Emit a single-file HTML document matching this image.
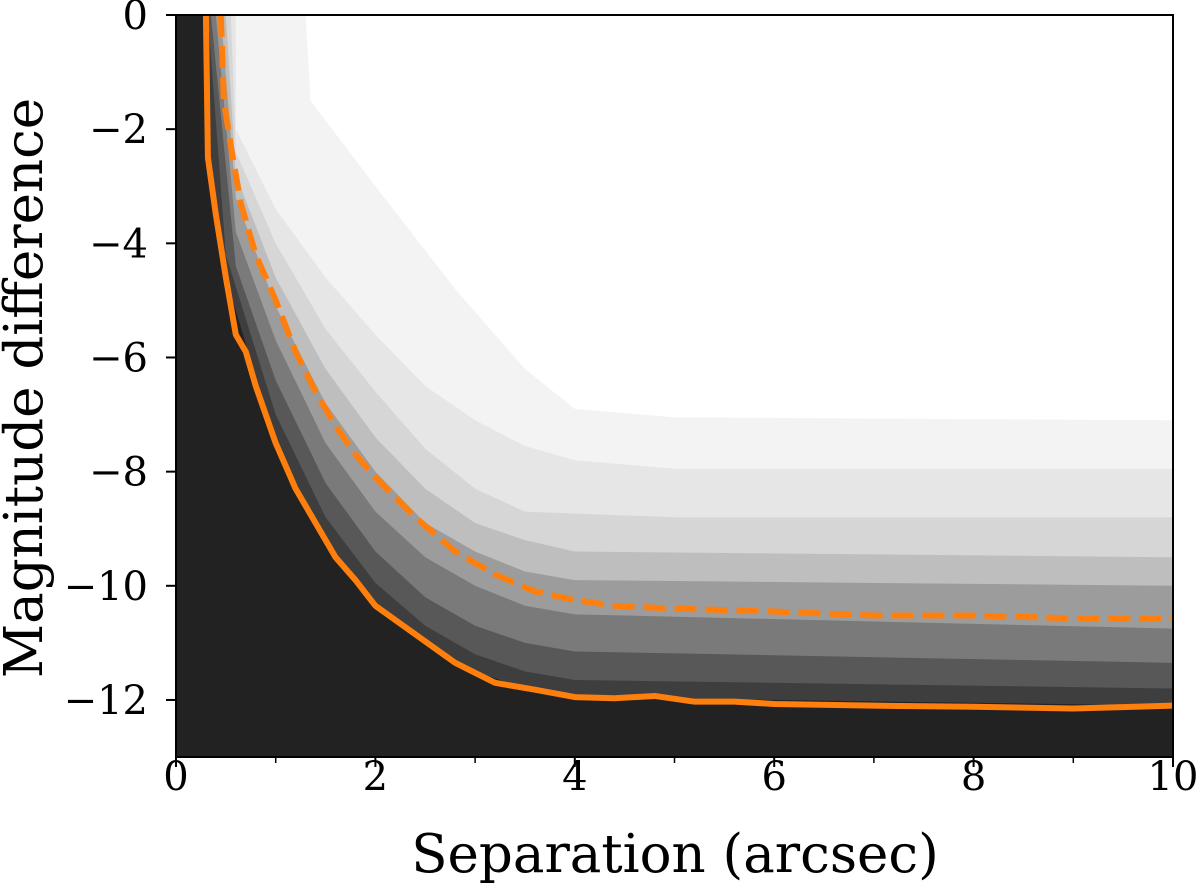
<!DOCTYPE html>
<html><head><meta charset="utf-8"><style>
body{margin:0;background:#fff;}
svg text{font-family:"DejaVu Serif","Liberation Serif",serif;fill:#000;}
</style></head><body>
<svg id="chart" width="1200" height="884" xmlns="http://www.w3.org/2000/svg">
<defs><clipPath id="clip"><rect x="176" y="15" width="997" height="742"/></clipPath></defs>
<g id="layers" clip-path="url(#clip)"></g>
<g id="lines" clip-path="url(#clip)"></g>
<rect x="176" y="15" width="997" height="742" fill="none" stroke="#000" stroke-width="2"/>
<g id="axes"></g>
<text x="675" y="872" font-size="53" text-anchor="middle">Separation (arcsec)</text>
<text transform="translate(42,388) rotate(-90)" font-size="53" text-anchor="middle">Magnitude difference</text>
</svg>
<script>
const xTicks=[0,2,4,6,8,10];
const xMinor=[1,3,5,7,9];
const yTicks=[0,-2,-4,-6,-8,-10,-12];
const layerColors=["#f3f3f3","#e6e6e6","#d6d6d6","#bebebe","#9c9c9c","#7a7a7a","#585858","#3e3e3e","#222222"];
const layerA=[[1.3,0],[1.35,-1.5],[2,-3],[2.8,-4.8],[3,-5.2],[3.5,-6.2],[4,-6.9],[5,-7.05],[10,-7.1]];
const layerB=[[0.6,0],[0.6,-2],[1,-3.4],[1.5,-4.6],[2,-5.6],[2.5,-6.5],[3,-7.1],[3.5,-7.55],[4,-7.8],[5,-7.95],[10,-7.95]];
const layerC=[[0.55,0],[0.6,-2.4],[1,-4.0],[1.5,-5.5],[2,-6.6],[2.5,-7.6],[3,-8.3],[3.5,-8.7],[5,-8.8],[10,-8.8]];
const layerD=[[0.5,0],[0.6,-2.8],[1,-4.6],[1.5,-6.2],[2,-7.4],[2.5,-8.3],[3,-8.9],[3.5,-9.2],[4,-9.4],[10,-9.5]];
const layerE=[[0.45,0],[0.6,-3.2],[1,-5.1],[1.5,-6.8],[2,-8.0],[2.5,-8.9],[3,-9.4],[3.5,-9.75],[4,-9.9],[10,-10.0]];
const layerF=[[0.4,0],[0.6,-3.8],[1,-5.7],[1.5,-7.5],[2,-8.7],[2.5,-9.5],[3,-10.0],[3.5,-10.35],[4,-10.5],[10,-10.75]];
const layerG=[[0.35,0],[0.6,-4.4],[1,-6.4],[1.5,-8.2],[2,-9.4],[2.5,-10.2],[3,-10.7],[3.5,-11.0],[4,-11.15],[10,-11.35]];
const layerH=[[0.32,0],[0.5,-4.2],[1,-7.0],[1.5,-8.8],[2,-9.95],[2.5,-10.7],[3,-11.2],[3.5,-11.5],[4,-11.65],[10,-11.8]];
const layerI=[[0.3,0],[0.3,-2.5],[0.5,-4.6],[1,-7.5],[1.5,-9.2],[2,-10.35],[2.5,-11.0],[3,-11.5],[3.5,-11.8],[4,-11.95],[10,-12.1]];
const solidLine=[[0.3,0],[0.32,-2.5],[0.4,-3.5],[0.5,-4.6],[0.6,-5.6],[0.7,-5.9],[0.8,-6.5],[1.0,-7.5],[1.2,-8.3],[1.4,-8.9],[1.6,-9.5],[1.8,-9.9],[2.0,-10.35],[2.4,-10.85],[2.8,-11.35],[3.2,-11.7],[3.6,-11.82],[4.0,-11.95],[4.4,-11.97],[4.8,-11.93],[5.2,-12.03],[5.6,-12.03],[6,-12.07],[7,-12.1],[8,-12.12],[9,-12.15],[10,-12.1]];
const dashedLine=[[0.45,0],[0.48,-1.5],[0.55,-2.3],[0.65,-3.3],[0.8,-4.2],[1.0,-5.0],[1.2,-5.9],[1.4,-6.6],[1.6,-7.2],[1.8,-7.7],[2,-8.1],[2.4,-8.8],[2.8,-9.4],[3.2,-9.8],[3.6,-10.1],[4,-10.25],[4.4,-10.35],[5,-10.4],[6,-10.45],[7,-10.52],[8,-10.52],[9,-10.57],[10,-10.57]];
const layers=[layerA,layerB,layerC,layerD,layerE,layerF,layerG,layerH,layerI];
const NS="http://www.w3.org/2000/svg";
const sx=v=>176+v*99.7, sy=v=>15-v*57.08;
const lg=document.getElementById('layers');
layers.forEach((L,i)=>{
  let pts=[[0,0],...L,[10,-13],[0,-13]].map(p=>sx(p[0])+","+sy(p[1])).join(" ");
  const p=document.createElementNS(NS,'polygon');
  p.setAttribute('points',pts);p.setAttribute('fill',layerColors[i]);
  
  
  lg.appendChild(p);
});
const ln=document.getElementById('lines');
function line(d,dash,name){
  const p=document.createElementNS(NS,'polyline');
  p.setAttribute('points',d.map(q=>sx(q[0])+","+sy(q[1])).join(" "));
  p.setAttribute('fill','none');p.setAttribute('stroke','#ff7f0e');p.setAttribute('stroke-width','6');
  p.setAttribute('stroke-linejoin','round');
  if(dash)p.setAttribute('stroke-dasharray','22,9');
  
  
  ln.appendChild(p);
}
line(solidLine,false,'solid-curve');
line(dashedLine,true,'dashed-curve');
const ax=document.getElementById('axes');
function mk(tag,attrs,txt){const e=document.createElementNS(NS,tag);for(const k in attrs)e.setAttribute(k,attrs[k]);if(txt!==undefined)e.textContent=txt;ax.appendChild(e);return e;}
xTicks.forEach(v=>{
  const t=mk('line',{x1:sx(v),x2:sx(v),y1:757,y2:767,stroke:'#000','stroke-width':2});
  
  
  const l=mk('text',{x:sx(v),y:790,'font-size':40,'text-anchor':'middle'},String(v));
  
  
});
xMinor.forEach(v=>{
  const t=mk('line',{x1:sx(v),x2:sx(v),y1:757,y2:763,stroke:'#000','stroke-width':1.5});
  
  
});
yTicks.forEach(v=>{
  const t=mk('line',{x1:166,x2:176,y1:sy(v),y2:sy(v),stroke:'#000','stroke-width':2});
  
  
  const l=mk('text',{x:148,y:sy(v)+14,'font-size':40,'text-anchor':'end'},v<0?"\u2212"+(-v):String(v));
  
  
});
</script>
</body></html>
